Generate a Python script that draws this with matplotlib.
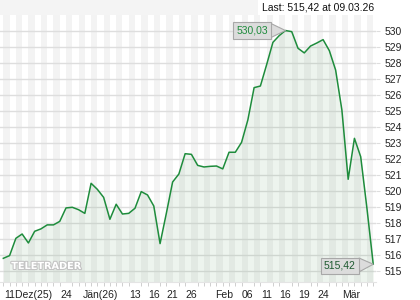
import numpy as np
import matplotlib.pyplot as plt
import matplotlib.patheffects as pe

# daily closing prices, 11 Dec 2025 .. 09 Mar 2026
prices = [515.79, 515.96, 517.04, 517.31, 516.75, 517.48, 517.63, 517.88, 517.88, 518.10,
          518.94, 518.98, 518.83, 518.60, 520.48, 520.10, 519.60, 518.23, 519.17, 518.56,
          518.60, 518.92, 519.96, 519.75, 519.06, 516.71, 518.60, 520.56, 521.06, 522.33,
          522.29, 521.60, 521.50, 521.54, 521.56, 521.38, 522.42, 522.42, 523.04, 524.44,
          526.46, 526.56, 527.90, 529.29, 529.71, 530.03, 529.96, 528.92, 528.63, 529.06,
          529.25, 529.46, 528.77, 527.56, 525.06, 520.73, 523.29, 522.14, 518.90, 515.42]
date_labels = ['11Dez(25)', '24', 'Jän(26)', '13', '16', '21', '26',
               'Feb', '06', '11', '16', '19', '24', 'Mär']
date_ticks = [3.9, 10, 15.5, 21, 24, 27, 30, 35.2, 39, 42, 45, 48, 51, 55.5]
y_ticks = list(range(515, 531))

green = '#1e8c3c'
plt.rcParams['font.family'] = ['Liberation Sans', 'DejaVu Sans']

fig = plt.figure(figsize=(4.2, 3.0), dpi=100)
ax = fig.add_axes([0, 0.06, 376 / 420, 0.89])

x = np.arange(len(prices))
ax.set_xlim(-0.53, 59.44)
ax.set_ylim(514.31, 531.0)

# alternating background columns
for i in range(0, len(prices) + 1, 2):
    ax.axvspan(i, i + 1, color='#f3f3f3', lw=0, zorder=0)

ax.set_yticks(y_ticks)
ax.grid(axis='y', color='#dedede', lw=1, zorder=1)

ax.fill_between(x, prices, 514.31, color='#3f8f4a', alpha=0.09, lw=0, zorder=2)
ax.plot(x, prices, color=green, lw=1.1, zorder=3)

ax.yaxis.tick_right()
ax.tick_params(axis='y', length=3, color='#dedede', labelsize=7.5, pad=3, labelcolor='#222222')
ax.set_xticks(date_ticks)
ax.set_xticklabels(date_labels)
ax.set_xticks(x, minor=True)
ax.tick_params(axis='x', which='major', length=0, labelsize=7.5, pad=6, labelcolor='#222222')
ax.tick_params(axis='x', which='minor', length=3, color='#c8c8c8')
for s in ['top', 'left', 'right']:
    ax.spines[s].set_visible(False)
ax.spines['bottom'].set_color('#e4e4e4')

# value callouts
hi = int(np.argmax(prices))
box = dict(boxstyle='square,pad=0.3', fc='#dcdcdc', ec='#a8a8a8', lw=0.8)
arrow = dict(arrowstyle='wedge,tail_width=1.3,shrink_factor=0.5', fc='#dcdcdc', ec='#a8a8a8',
             lw=0.8, shrinkA=0, shrinkB=0)
ax.annotate(f'{prices[hi]:.2f}'.replace('.', ','), xy=(hi, prices[hi]),
            xytext=(-24, 0), textcoords='offset points', ha='center', va='center',
            fontsize=7.5, color=green, bbox=box, arrowprops=arrow, zorder=5)
ax.annotate(f'{prices[-1]:.2f}'.replace('.', ','), xy=(x[-1], prices[-1]),
            xytext=(-24, -1), textcoords='offset points', ha='center', va='center',
            fontsize=7.5, color='#1e5a30', bbox=box, arrowprops=arrow, zorder=5)

# watermark
ax.text(0.03, 0.06, 'TELETRADER', transform=ax.transAxes, fontsize=7, fontweight='bold',
        family='Liberation Sans Narrow', color='white', va='center', zorder=4,
        path_effects=[pe.withStroke(linewidth=1.6, foreground='#c4c4c4')])

# header
fig.patches.append(plt.Rectangle((0, 0.95), 258 / 420, 0.05, transform=fig.transFigure,
                                 color='#f4f4f4', lw=0, zorder=0))
fig.text(374 / 420, 0.975, f'Last: {prices[-1]:.2f}'.replace('.', ',') + ' at 09.03.26',
         ha='right', va='center', fontsize=7.5, color='#111111')

fig.savefig('out.png', dpi=100)
